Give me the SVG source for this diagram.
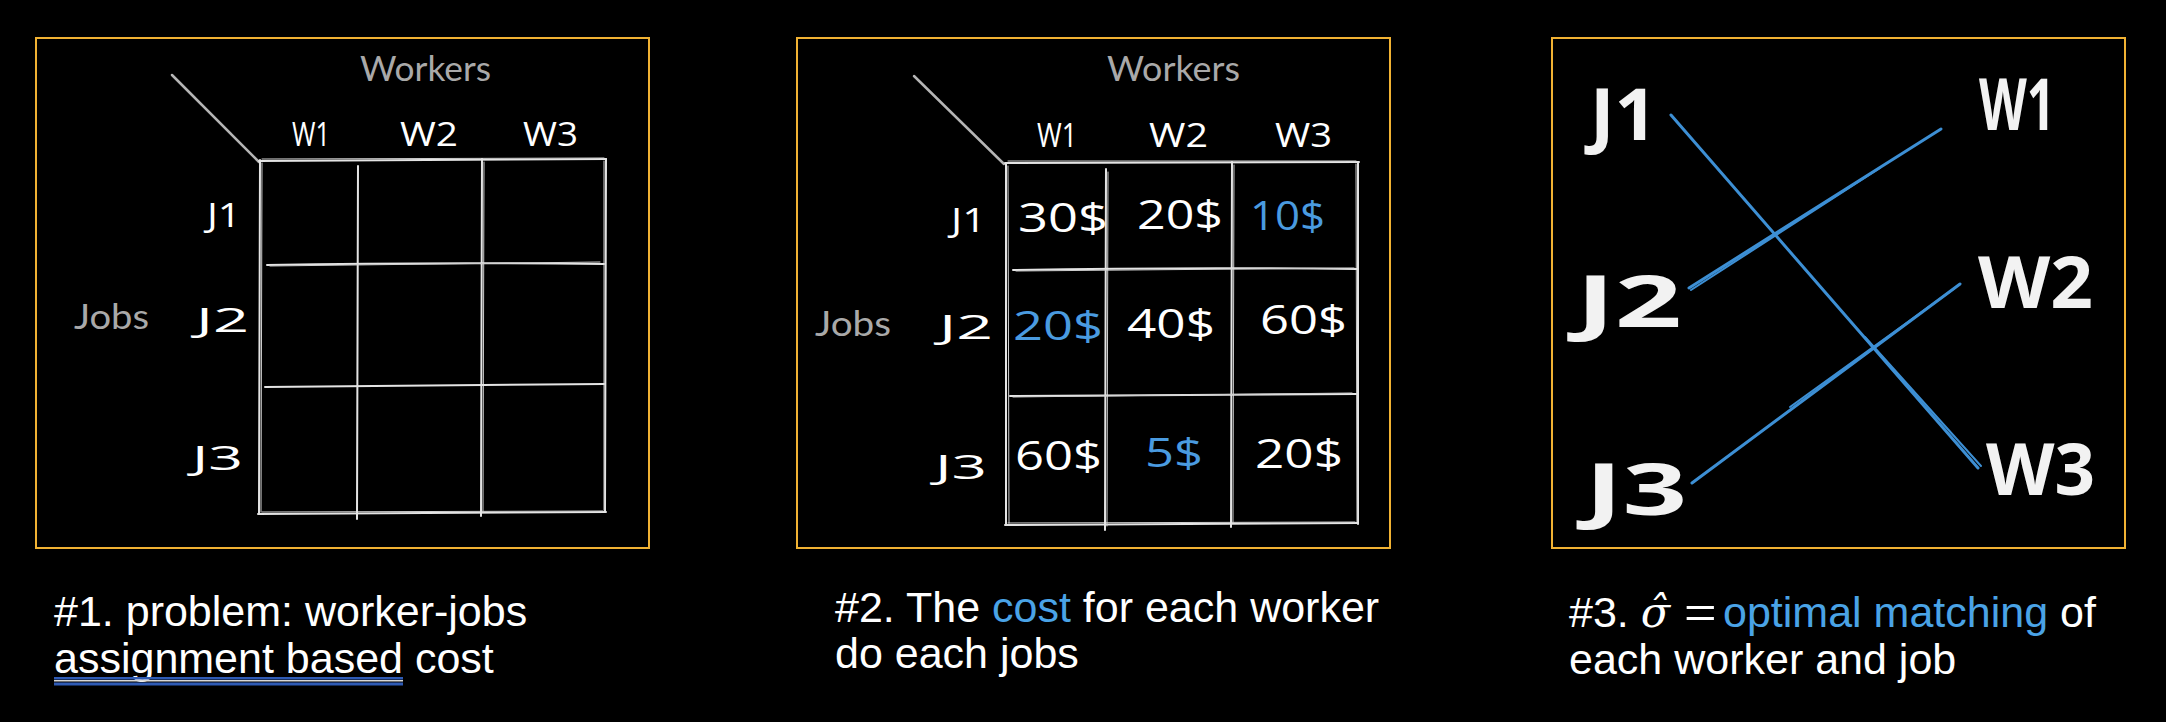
<svg xmlns="http://www.w3.org/2000/svg" width="2166" height="722" viewBox="0 0 2166 722">
<style>
.frame{fill:none;stroke:#f1b233;stroke-width:2}
.grid{stroke:#e4e4e4;stroke-width:2;stroke-linecap:round;fill:none}
.grid2{stroke:#cfcfcf;stroke-width:1;stroke-linecap:round;fill:none}
.diag{stroke:#b5b5b5;stroke-width:2.5;stroke-linecap:round}
.axis{font-family:Lato,"Open Sans",sans-serif;font-size:34px;fill:#a9a9a9;font-weight:400}
.hand{font-family:"Open Sans","DejaVu Sans",sans-serif;font-size:33px;font-weight:500;fill:#ffffff}
.cost{font-family:"Open Sans","DejaVu Sans",sans-serif;font-size:40px;font-weight:500;fill:#ffffff}
.blue{fill:#4a9be0}
.big{font-family:"Open Sans","DejaVu Sans",sans-serif;font-weight:700;font-size:72px;fill:#f2f2f2}
.cap{font-family:"Liberation Sans",Arial,sans-serif;font-size:43px;fill:#ffffff}
.match{stroke:#3d8fd4;stroke-width:3;stroke-linecap:round;fill:none}
.match2{stroke:#3d8fd4;stroke-width:2;stroke-linecap:round;fill:none}
</style>
<rect width="2166" height="722" fill="#000"/>

<!-- Panel 1 -->
<g id="panel1">
  <rect class="frame" x="36" y="38" width="613" height="510"/>
  <line class="diag" x1="172" y1="75" x2="259" y2="162"/>
  <text class="axis" x="360" y="81" textLength="131" lengthAdjust="spacingAndGlyphs">Workers</text>
  <text class="axis" x="74" y="329" textLength="75" lengthAdjust="spacingAndGlyphs">Jobs</text>
  <text class="hand" x="292" y="146" textLength="38" lengthAdjust="spacingAndGlyphs">W1</text>
  <text class="hand" x="400" y="146" textLength="58" lengthAdjust="spacingAndGlyphs">W2</text>
  <text class="hand" x="523" y="146" textLength="55" lengthAdjust="spacingAndGlyphs">W3</text>
  <text class="hand" x="207" y="227" textLength="34" lengthAdjust="spacingAndGlyphs">J1</text>
  <text class="hand" x="196" y="332" textLength="53" lengthAdjust="spacingAndGlyphs">J2</text>
  <text class="hand" x="192" y="470" textLength="51" lengthAdjust="spacingAndGlyphs">J3</text>
  <g id="grid1">
    <path class="grid" d="M259 161 L606 159"/>
    <path class="grid2" d="M262 159 L604 158"/>
    <path class="grid" d="M260 160 L259 514"/>
    <path class="grid2" d="M262 163 L261 512"/>
    <path class="grid" d="M606 159 L605 512"/>
    <path class="grid2" d="M604 161 L604 510"/>
    <path class="grid" d="M258 514 L606 512"/>
    <path class="grid2" d="M262 512 L603 511"/>
    <path class="grid" d="M358 166 L357 519"/>
    <path class="grid" d="M482 159 L481 516"/>
    <path class="grid2" d="M484 162 L483 512"/>
    <path class="grid" d="M267 265 Q430 262 604 264"/>
    <path class="grid2" d="M270 266 L600 262"/>
    <path class="grid" d="M265 387 L604 384"/>
  </g>
  <text class="cap" x="54" y="626">#1. problem: worker-jobs</text>
  <text class="cap" x="54" y="673">assignment based cost</text>
  <rect x="54" y="677" width="349" height="2.5" fill="#2f5bb5"/>
  <rect x="54" y="680" width="349" height="1.5" fill="#d8d8d8"/>
  <rect x="54" y="682.5" width="349" height="3" fill="#2f5bb5"/>
</g>

<!-- Panel 2 -->
<g id="panel2">
  <rect class="frame" x="797" y="38" width="593" height="510"/>
  <line class="diag" x1="914" y1="76" x2="1004" y2="164"/>
  <text class="axis" x="1107" y="81" textLength="133" lengthAdjust="spacingAndGlyphs">Workers</text>
  <text class="axis" x="815" y="336" textLength="76" lengthAdjust="spacingAndGlyphs">Jobs</text>
  <text class="hand" x="1037" y="147" textLength="40" lengthAdjust="spacingAndGlyphs">W1</text>
  <text class="hand" x="1149" y="147" textLength="59" lengthAdjust="spacingAndGlyphs">W2</text>
  <text class="hand" x="1275" y="147" textLength="57" lengthAdjust="spacingAndGlyphs">W3</text>
  <text class="hand" x="951" y="232" textLength="35" lengthAdjust="spacingAndGlyphs">J1</text>
  <text class="hand" x="939" y="339" textLength="54" lengthAdjust="spacingAndGlyphs">J2</text>
  <text class="hand" x="935" y="479" textLength="52" lengthAdjust="spacingAndGlyphs">J3</text>
  <g id="grid2">
    <path class="grid" d="M1005 163 L1359 162"/>
    <path class="grid2" d="M1008 161 L1356 161"/>
    <path class="grid" d="M1006 163 L1006 525"/>
    <path class="grid2" d="M1008 166 L1009 523"/>
    <path class="grid" d="M1358 162 L1358 524"/>
    <path class="grid2" d="M1356 164 L1357 522"/>
    <path class="grid" d="M1005 525 L1358 523"/>
    <path class="grid2" d="M1008 523 L1355 522"/>
    <path class="grid" d="M1106 169 L1105 530"/>
    <path class="grid2" d="M1108 172 L1107 526"/>
    <path class="grid" d="M1232 162 L1231 527"/>
    <path class="grid2" d="M1234 165 L1233 523"/>
    <path class="grid" d="M1013 270 Q1180 267 1357 269"/>
    <path class="grid2" d="M1016 271 L1354 268"/>
    <path class="grid" d="M1010 396 L1356 394"/>
    <path class="grid2" d="M1013 397 L1352 393"/>
  </g>
  <text class="cost" x="1018" y="232" textLength="90" lengthAdjust="spacingAndGlyphs">30$</text>
  <text class="cost" x="1137" y="229" textLength="86" lengthAdjust="spacingAndGlyphs">20$</text>
  <text class="cost blue" x="1250" y="230" textLength="75" lengthAdjust="spacingAndGlyphs">10$</text>
  <text class="cost blue" x="1013" y="340" textLength="90" lengthAdjust="spacingAndGlyphs">20$</text>
  <text class="cost" x="1127" y="338" textLength="88" lengthAdjust="spacingAndGlyphs">40$</text>
  <text class="cost" x="1260" y="334" textLength="87" lengthAdjust="spacingAndGlyphs">60$</text>
  <text class="cost" x="1015" y="470" textLength="87" lengthAdjust="spacingAndGlyphs">60$</text>
  <text class="cost blue" x="1145" y="467" textLength="58" lengthAdjust="spacingAndGlyphs">5$</text>
  <text class="cost" x="1255" y="468" textLength="88" lengthAdjust="spacingAndGlyphs">20$</text>
  <text class="cap" x="835" y="622">#2. The <tspan fill="#4aa3e6">cost</tspan> for each worker</text>
  <text class="cap" x="835" y="668">do each jobs</text>
</g>

<!-- Panel 3 -->
<g id="panel3">
  <rect class="frame" x="1552" y="38" width="573" height="510"/>
  <g id="node-J1"><text class="big" x="1590" y="140" textLength="67" lengthAdjust="spacingAndGlyphs">J1</text></g>
  <g id="node-J2"><text class="big" x="1576" y="327" textLength="106" lengthAdjust="spacingAndGlyphs">J2</text></g>
  <g id="node-J3"><text class="big" x="1585" y="515" textLength="102" lengthAdjust="spacingAndGlyphs">J3</text></g>
  <g id="node-W1"><text class="big" x="1979" y="130" textLength="76" lengthAdjust="spacingAndGlyphs">W1</text></g>
  <g id="node-W2"><text class="big" x="1978" y="308" textLength="115" lengthAdjust="spacingAndGlyphs">W2</text></g>
  <g id="node-W3"><text class="big" x="1986" y="495" textLength="109" lengthAdjust="spacingAndGlyphs">W3</text></g>
  <g id="connectors">
    <path class="match" d="M1671 115 L1978 468"/>
    <path class="match2" d="M1865 337 L1981 466"/>
    <path class="match" d="M1689 288 L1941 129"/>
    <path class="match2" d="M1691 290 L1880 168"/>
    <path class="match" d="M1692 483 L1960 284"/>
    <path class="match2" d="M1790 407 L1955 288"/>
  </g>
  <text class="cap" x="1569" y="627">#3. <tspan font-family="'DejaVu Serif',serif" font-style="italic">σ̂</tspan></text>
  <text class="cap" transform="translate(1684 627) scale(1.3 1)" x="0" y="0">=</text>
  <text class="cap" x="1723" y="627"><tspan fill="#4aa3e6">optimal matching</tspan> of</text>
  <text class="cap" x="1569" y="674">each worker and job</text>
</g>
</svg>
